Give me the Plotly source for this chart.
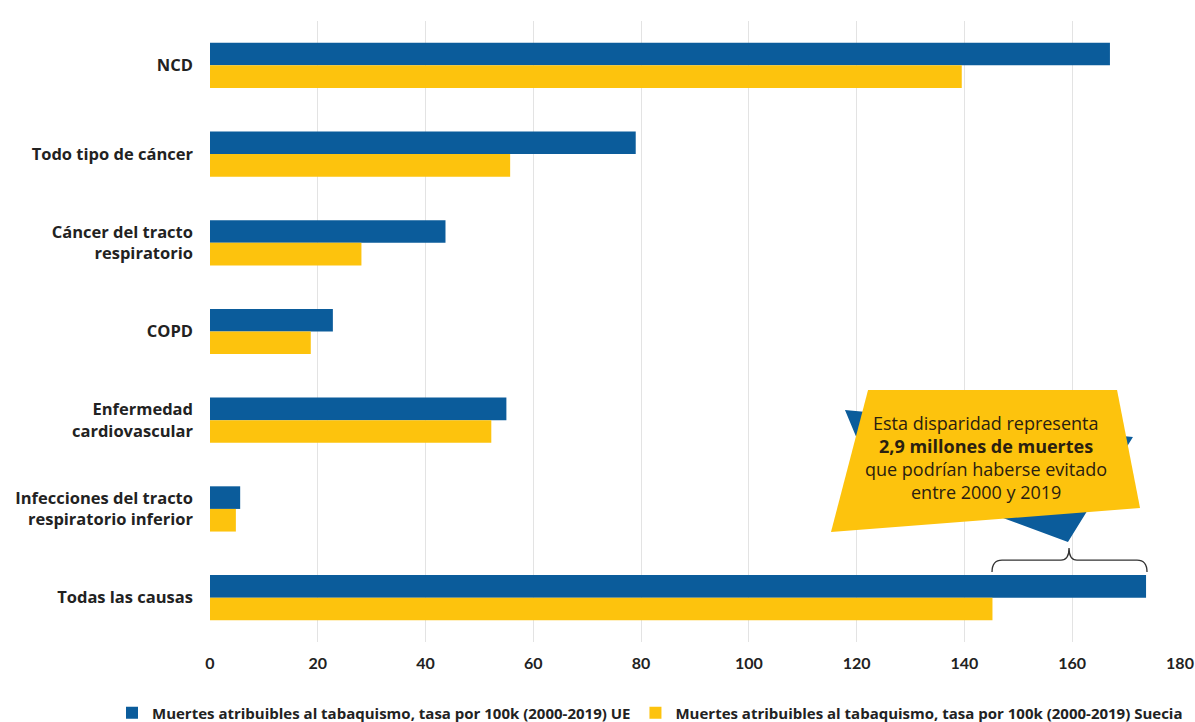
import plotly.graph_objects as go

categories = ["NCD", "Todo tipo de cáncer", "Cáncer del tracto<br>respiratorio", "COPD",
              "Enfermedad<br>cardiovascular", "Infecciones del tracto<br>respiratorio inferior",
              "Todas las causas"]
ue_values = [167, 79, 43.7, 22.8, 55, 5.6, 173.7]
suecia_values = [139.5, 55.7, 28.1, 18.7, 52.2, 4.8, 145.2]
series_names = ["Muertes atribuibles al tabaquismo, tasa por 100k (2000-2019) UE",
                "Muertes atribuibles al tabaquismo, tasa por 100k (2000-2019) Suecia"]
x_ticks = [0, 20, 40, 60, 80, 100, 120, 140, 160, 180]
callout_lines = ["Esta disparidad representa", "<b>2,9 millones de muertes</b>",
                 "que podrían haberse evitado", "entre 2000 y 2019"]

BLUE = "#0b5c9b"
YELLOW = "#fdc30d"

W, H = 1195, 722
L, R, T, B = 210, 15, 21, 80
PW, PH = W - L - R, H - T - B


def px(xp):
    return (xp - L) / PW


def py(yp):
    return (H - B - yp) / PH


def path(pts):
    s = "M " + " L ".join(f"{px(a):.4f},{py(b):.4f}" for a, b in pts) + " Z"
    return s


fig = go.Figure()
fig.add_trace(go.Bar(y=categories, x=ue_values, orientation="h", name=series_names[0],
                     marker=dict(color=BLUE, line=dict(width=0))))
fig.add_trace(go.Bar(y=categories, x=suecia_values, orientation="h", name=series_names[1],
                     marker=dict(color=YELLOW, line=dict(width=0))))

shapes = []
# blue polygon behind callout
shapes.append(dict(type="path", xref="paper", yref="paper", layer="above",
                   path=path([(845, 410), (1133, 437), (1068, 542), (1003, 518), (870, 470)]),
                   fillcolor=BLUE, line=dict(width=0)))
# yellow callout
shapes.append(dict(type="path", xref="paper", yref="paper", layer="above",
                   path=path([(868, 390), (1117, 390), (1140, 508), (831, 532)]),
                   fillcolor=YELLOW, line=dict(width=0)))
# curly bracket
bx0, bx1, bxm, by = 992, 1147, 1069, 560
br = (f"M {px(bx0):.4f},{py(572):.4f} Q {px(bx0):.4f},{py(by):.4f} {px(bx0+10):.4f},{py(by):.4f} "
      f"L {px(bxm-8):.4f},{py(by):.4f} Q {px(bxm):.4f},{py(by):.4f} {px(bxm):.4f},{py(548):.4f} "
      f"Q {px(bxm):.4f},{py(by):.4f} {px(bxm+8):.4f},{py(by):.4f} "
      f"L {px(bx1-10):.4f},{py(by):.4f} Q {px(bx1):.4f},{py(by):.4f} {px(bx1):.4f},{py(572):.4f}")
shapes.append(dict(type="path", xref="paper", yref="paper", layer="above", path=br,
                   line=dict(color="#333333", width=1.3)))

annotations = []
for i, line in enumerate(callout_lines):
    annotations.append(dict(xref="paper", yref="paper", x=px(986), y=py(423 + i * 23),
                            text=line, showarrow=False, xanchor="center", yanchor="middle",
                            font=dict(family="Open Sans", size=18, color="#2a2010")))

fig.update_layout(
    width=W, height=H,
    margin=dict(l=L, r=R, t=T, b=B, autoexpand=False),
    paper_bgcolor="white", plot_bgcolor="white",
    barmode="group", bargap=0.49, bargroupgap=0,
    showlegend=True,
    legend=dict(orientation="h", xref="paper", x=px(112), xanchor="left",
                yref="paper", y=py(713), yanchor="middle",
                font=dict(family="Open Sans", size=15, color="#222222", weight="bold"),
                itemwidth=30, tracegroupgap=0),
    shapes=shapes, annotations=annotations,
    xaxis=dict(range=[0, 180], tickvals=x_ticks, showgrid=True, gridcolor="#e3e3e3",
               gridwidth=1, zeroline=False, showline=False, ticks="",
               ticklabelstandoff=10, automargin=False,
               tickfont=dict(family="Lato", size=16, color="#222222", weight="bold")),
    yaxis=dict(autorange="reversed", showgrid=False, zeroline=False, showline=False, ticks="",
               ticklabelstandoff=16, automargin=False,
               tickfont=dict(family="Open Sans", size=16.5, color="#222222", weight="bold")),
)

fig.write_html("out.html", config={"displayModeBar": False},
               post_script="document.body.style.margin='0';")
